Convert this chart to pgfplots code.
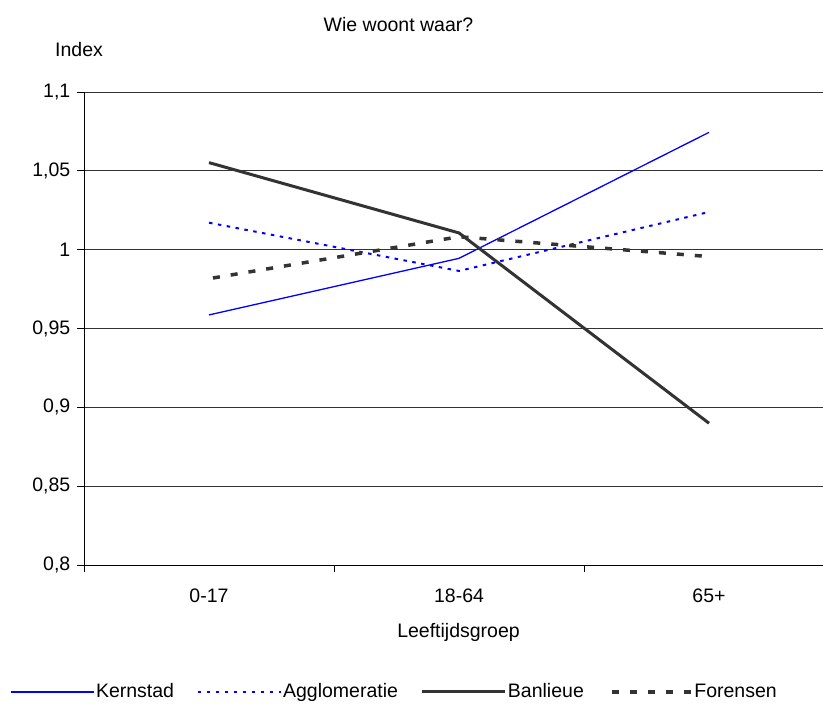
\documentclass[border=0pt]{standalone}
\usepackage{pgfplots}
\pgfplotsset{compat=1.18}
\usepackage{fontspec}
\setmainfont{Liberation Sans}
\definecolor{dg}{RGB}{51,51,51}
\definecolor{bl}{RGB}{0,0,255}
\begin{document}
\fontsize{19.5bp}{23bp}\selectfont
\begin{tikzpicture}[x=1bp,y=1bp]
\useasboundingbox (0,0) rectangle (823,704);
\begin{axis}[
  at={(84bp,139bp)}, anchor=south west,
  scale only axis, width=739bp, height=473bp,
  xmin=-0.5, xmax=2.456, ymin=0.8, ymax=1.1,
  axis x line*=bottom, axis y line*=left,
  axis line style={black, line width=0.8bp, -},
  xtick={-0.5,0.5,1.5}, xticklabels={},
  extra x ticks={0,1,2}, extra x tick labels={0-17,18-64,65+},
  extra x tick style={major tick length=0pt, grid=none,
     xticklabel style={anchor=base, yshift=-38bp}},
  ytick={0.8,0.85,0.9,0.95,1,1.05,1.1},
  yticklabels={{0,8},{0,85},{0,9},{0,95},{1},{1,05},{1,1}},
  tick align=outside, major tick length=7bp,
  tick style={black, line width=0.8bp},
  ymajorgrids, grid style={dg, line width=0.8bp},
  yticklabel style={xshift=0bp},
  legend columns=4,
  legend style={at={(-0.1001,-0.2685)}, anchor=west, draw=none, fill=none, inner sep=0pt,
    nodes={inner sep=1.5bp, font=\fontsize{19.5bp}{23bp}\selectfont},
    /tikz/every even column/.append style={column sep=21bp}},
  legend image code/.code={\draw[#1] (0bp,0bp) -- (83bp,0bp);},
  clip=false,
]
\addplot[bl, line width=1.3bp] coordinates {(0,0.9586) (1,0.9945) (2,1.0744)};
\addlegendentry{Kernstad}
\addplot[bl, line width=2bp, dash pattern=on 3.5bp off 5.5bp] coordinates {(0,1.0171) (1,0.9865) (2,1.0239)};
\addlegendentry{Agglomeratie}
\addplot[dg, line width=3bp] coordinates {(0,1.0552) (1,1.0106) (2,0.8899)};
\addlegendentry{Banlieue}
\addplot[dg, line width=3.5bp, dash pattern=on 7bp off 11bp, dash phase=-4bp] coordinates {(0,0.9816) (1,1.0082) (2,0.9956)};
\addlegendentry{Forensen}
\end{axis}
\node[anchor=base] at (398.5,672) {Wie woont waar?};
\node[anchor=base] at (79,647) {Index};
\node[anchor=base] at (458.5,66) {Leeftijdsgroep};
\end{tikzpicture}
\end{document}
